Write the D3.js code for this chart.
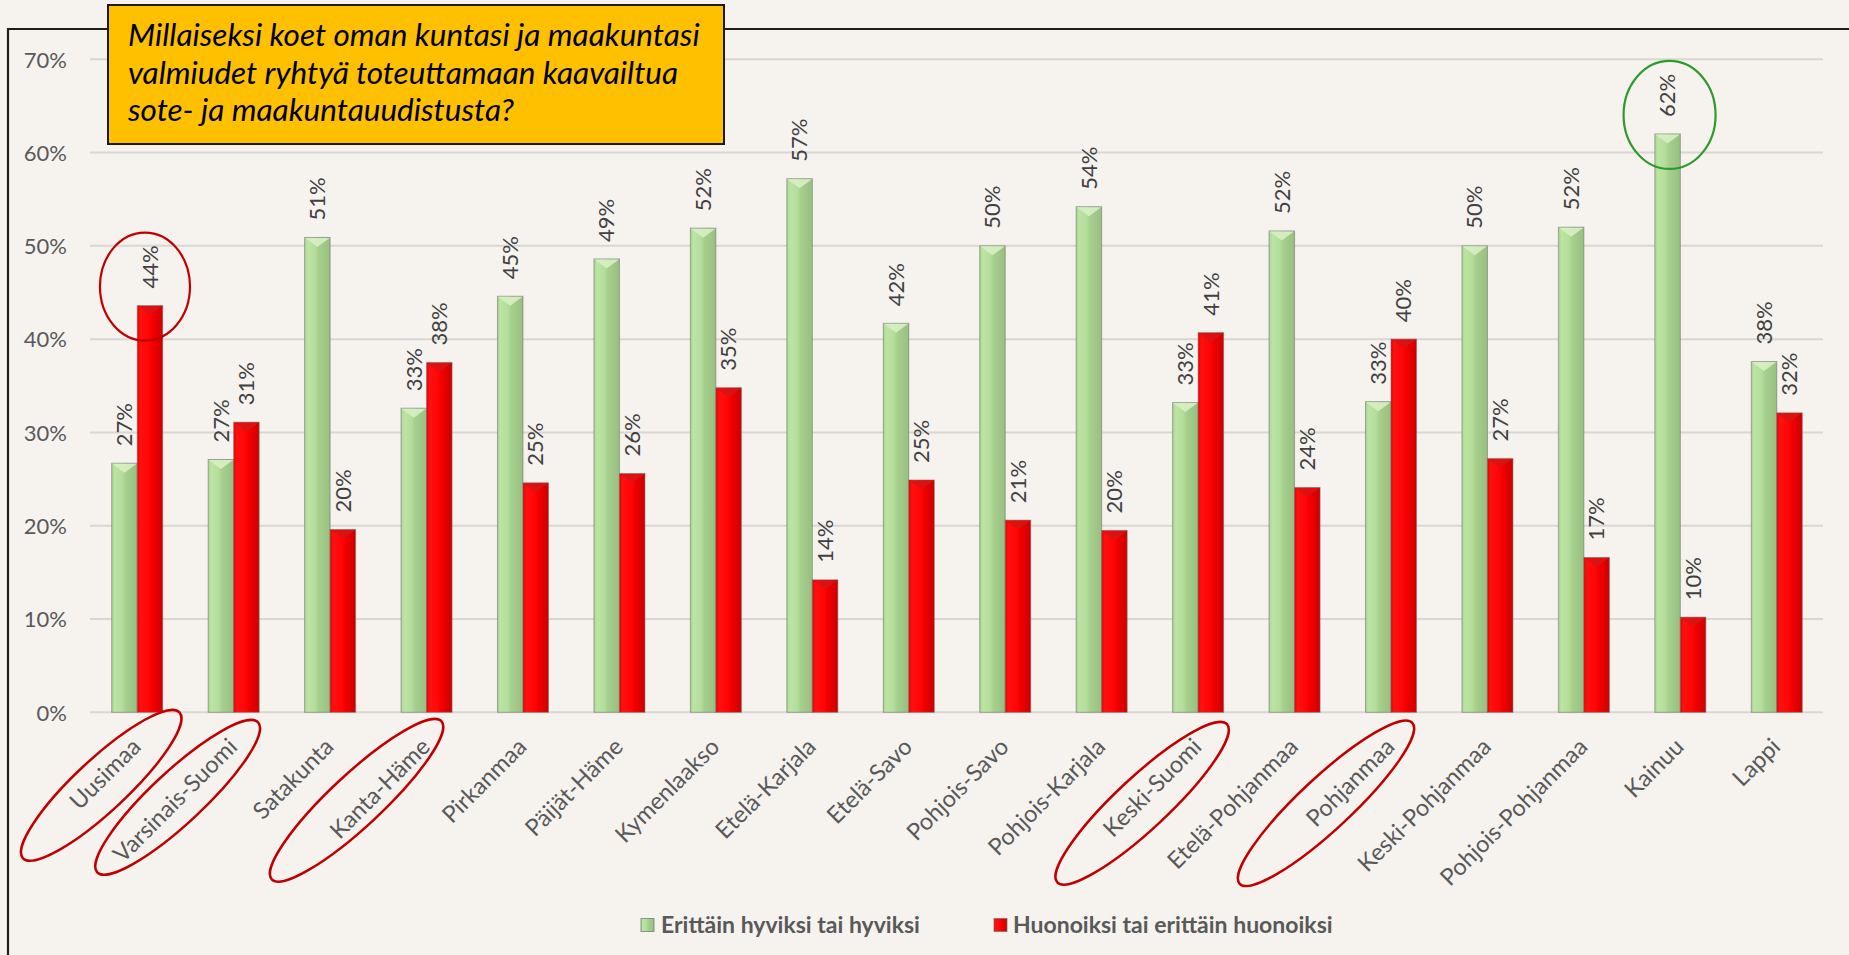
<!DOCTYPE html>
<html><head><meta charset="utf-8">
<script src="https://cdn.jsdelivr.net/npm/d3@7"></script>
<style>
html,body{margin:0;padding:0;background:#f6f3ef;overflow:hidden;}
svg{display:block;}
</style></head><body>
<svg id="chart" width="1849" height="955"></svg>
<script>
const categories = ["Uusimaa","Varsinais-Suomi","Satakunta","Kanta-Häme","Pirkanmaa","Päijät-Häme","Kymenlaakso","Etelä-Karjala","Etelä-Savo","Pohjois-Savo","Pohjois-Karjala","Keski-Suomi","Etelä-Pohjanmaa","Pohjanmaa","Keski-Pohjanmaa","Pohjois-Pohjanmaa","Kainuu","Lappi"];
const goodValues = [26.7,27.1,50.9,32.6,44.6,48.6,51.9,57.2,41.7,50.0,54.2,33.2,51.6,33.3,50.0,52.0,62.0,37.6];
const badValues  = [43.6,31.1,19.6,37.5,24.6,25.6,34.8,14.2,24.9,20.6,19.5,40.7,24.1,40.0,27.2,16.6,10.2,32.1];
const seriesNames = ["Erittäin hyviksi tai hyviksi","Huonoiksi tai erittäin huonoiksi"];
const yTicks = [0,10,20,30,40,50,60,70];
const titleLines = ["Millaiseksi koet oman kuntasi ja maakuntasi","valmiudet ryhtyä toteuttamaan kaavailtua","sote- ja maakuntauudistusta?"];
const highlightedRegions = ["Uusimaa","Varsinais-Suomi","Kanta-Häme","Keski-Suomi","Pohjanmaa"];

const svg = d3.select("#chart");
const W = 1849, H = 955;
svg.append("rect").attr("width",W).attr("height",H).attr("fill","#f6f3ef");

const defs = svg.append("defs");
function grad(id, stops){
  const g = defs.append("linearGradient").attr("id",id).attr("x1","0").attr("x2","1").attr("y1","0").attr("y2","0");
  stops.forEach(s=>g.append("stop").attr("offset",s[0]).attr("stop-color",s[1]));
}
grad("gGreen",[["0%","#a9d390"],["12%","#bce4a3"],["40%","#b4de9b"],["55%","#a6cf8d"],["100%","#98bf80"]]);
grad("gRed",[["0%","#e80000"],["12%","#ff1010"],["45%","#ff0606"],["60%","#f20000"],["100%","#cc0000"]]);

const x0 = d3.scaleBand().domain(categories).range([89,1825]).paddingInner(0.471).paddingOuter(0.2355);
const x1 = d3.scaleBand().domain([0,1]).range([0,x0.bandwidth()]);
const y = d3.scaleLinear().domain([0,70]).range([712.3,59.3]);

// frame
svg.append("path").attr("d","M8,955 V29 H1849").attr("fill","none").attr("stroke","#1e1e1e").attr("stroke-width",2.2);

// gridlines
svg.append("g").selectAll("line").data(yTicks).join("line")
  .attr("x1",90).attr("x2",1823).attr("y1",d=>y(d)).attr("y2",d=>y(d))
  .attr("stroke","#d9d7d4").attr("stroke-width",2);

// y axis
const yAxis = svg.append("g").attr("transform","translate(67,0)")
  .call(d3.axisLeft(y).tickValues(yTicks).tickFormat(d=>d+"%").tickSize(0).tickPadding(0));
yAxis.select(".domain").remove();
yAxis.selectAll("text").attr("fill","#595959").style("font-family","Lato, sans-serif").style("font-size","22px").attr("dy","0.35em");

// bars
const series = [goodValues, badValues];
const fills = ["url(#gGreen)","url(#gRed)"];
const topFills = ["#d8f0c4","#d81414"];
const groups = svg.append("g").selectAll("g").data(categories).join("g")
  .attr("transform",d=>`translate(${x0(d)},0)`);
series.forEach((vals,si)=>{
  groups.append("rect")
    .attr("x",x1(si)).attr("width",x1.bandwidth())
    .attr("y",(d,i)=>y(vals[i])).attr("height",(d,i)=>y(0)-y(vals[i]))
    .attr("fill",fills[si]).attr("stroke","rgba(110,110,110,0.55)").attr("stroke-width",1);
  groups.append("path")
    .attr("d",(d,i)=>{const xl=x1(si)+0.5, xr=x1(si)+x1.bandwidth()-0.5, t=y(vals[i])+0.5; return `M${xl},${t} L${xr},${t} L${(xl+xr)/2},${t+9} Z`;})
    .attr("fill",topFills[si]).attr("opacity",0.9);
  groups.append("text")
    .attr("transform",(d,i)=>`translate(${x1(si)+x1.bandwidth()/2},${y(vals[i])-17}) rotate(-90)`)
    .attr("dy","0.35em").attr("text-anchor","start")
    .attr("fill","#404040").style("font-family","Lato, sans-serif").style("font-size","22px")
    .text((d,i)=>Math.round(vals[i])+"%");
});

// x axis
const xAxis = svg.append("g").attr("transform",`translate(0,${y(0)})`)
  .call(d3.axisBottom(x0).tickSize(0));
xAxis.select(".domain").remove();
xAxis.selectAll("text").attr("x",0).attr("y",0).attr("dy",0)
  .attr("transform","translate(5,36) rotate(-45)").attr("text-anchor","end")
  .attr("fill","#595959").style("font-family","Lato, sans-serif").style("font-size","23.5px");

// annotations: hand-drawn style ellipses around selected region labels
const ellipseOffsets = {"Uusimaa":[-36,73,107],"Varsinais-Suomi":[-56,85,110],"Kanta-Häme":[-70,88,116],"Keski-Suomi":[-56,91,116],"Pohjanmaa":[-65,91,118]};
svg.append("g").selectAll("ellipse").data(highlightedRegions).join("ellipse")
  .attr("transform",d=>{const s=ellipseOffsets[d]; return `translate(${x0(d)+x0.bandwidth()/2+s[0]},${y(0)+s[1]}) rotate(-43)`;})
  .attr("rx",d=>ellipseOffsets[d][2]).attr("ry",26)
  .attr("fill","none").attr("stroke","#c00000").attr("stroke-width",2.5);
// circle around max bad value
const iBad = badValues.indexOf(d3.max(badValues));
svg.append("ellipse").attr("cx",x0(categories[iBad])+x1(1)+x1.bandwidth()/2-5).attr("cy",y(badValues[iBad])-19)
  .attr("rx",45).attr("ry",54).attr("fill","none").attr("stroke","#c00000").attr("stroke-width",2.2);
const iGood = goodValues.indexOf(d3.max(goodValues));
svg.append("ellipse").attr("cx",x0(categories[iGood])+x1(0)+x1.bandwidth()/2+2).attr("cy",y(goodValues[iGood])-19)
  .attr("rx",46).attr("ry",54).attr("fill","none").attr("stroke","#2e9a2e").attr("stroke-width",2.2);

// legend
const legend = svg.append("g");
const legX = [641,994], legTextX=[661,1013];
seriesNames.forEach((n,i)=>{
  legend.append("rect").attr("x",legX[i]).attr("y",918.5).attr("width",13).attr("height",13)
    .attr("fill",fills[i]).attr("stroke","rgba(110,110,110,0.7)").attr("stroke-width",1);
  legend.append("text").attr("x",legTextX[i]).attr("y",932.5).text(n)
    .attr("fill","#595959").style("font-family","Lato, sans-serif").style("font-size","23px").style("font-weight","700");
});

// title box
svg.append("rect").attr("x",108).attr("y",5).attr("width",616).attr("height",139)
  .attr("fill","#ffc000").attr("stroke","#1a1a1a").attr("stroke-width",2);
svg.append("g").selectAll("text").data(titleLines).join("text")
  .attr("x",128).attr("y",(d,i)=>46+i*37.5).text(d=>d)
  .attr("fill","#000").style("font-family","Lato, sans-serif").style("font-size","31.5px").style("font-style","italic");
</script>
</body></html>
